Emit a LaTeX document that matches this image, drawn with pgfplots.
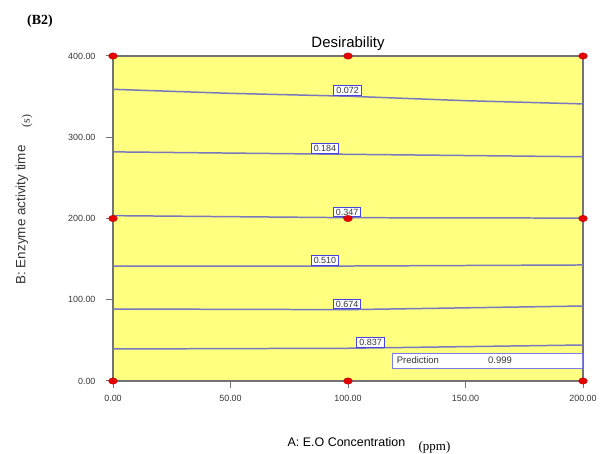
\documentclass[border=0pt]{standalone}
\usepackage{pgfplots}
\pgfplotsset{compat=1.18}
\usepackage{fontspec}
\setmainfont{Liberation Sans}
\newfontfamily\seriffont{Liberation Serif}
\definecolor{fillyellow}{RGB}{255,255,128}
\definecolor{contour}{RGB}{120,120,190}
\definecolor{lblblue}{RGB}{70,70,220}
\definecolor{axgray}{RGB}{115,115,115}
\definecolor{ticktext}{RGB}{55,55,55}
\definecolor{dotred}{RGB}{230,0,0}
\begin{document}
\begin{tikzpicture}[x=1bp,y=1bp]
\useasboundingbox (-113,-73) rectangle (495,381);
\begin{axis}[
  at={(0,0)}, anchor=south west,
  scale only axis, width=470bp, height=325bp,
  xmin=0, xmax=200, ymin=0, ymax=400,
  xtick={0,50,100,150,200}, ytick={0,100,200,300,400},
  tick pos=left, tick align=outside, major tick length=7bp,
  axis line style={axgray, line width=1.4pt},
  every tick/.style={axgray, line width=1pt},
  /pgf/number format/assume math mode=true,
  /pgf/number format/.cd, fixed, fixed zerofill, precision=2, /pgfplots/.cd,
  ticklabel style={font=\fontsize{9}{10}\selectfont, text=ticktext},
  xticklabel style={yshift=-4bp},
  yticklabel style={xshift=-7bp},
  scaled ticks=false,
  axis background/.style={fill=fillyellow},
  clip=false,
]
% contour lines
\addplot[contour, line width=1.5pt] coordinates {(0,359) (50,354) (100,350.5) (150,345) (200,341)};
\addplot[contour, line width=1.5pt] coordinates {(0,282) (100,279) (200,276)};
\addplot[contour, line width=1.5pt] coordinates {(0,203.5) (100,201) (200,200.5)};
\addplot[contour, line width=1.5pt] coordinates {(0,141.5) (100,141.5) (200,142.8)};
\addplot[contour, line width=1.5pt] coordinates {(0,88.6) (100,87.8) (200,92.3)};
\addplot[contour, line width=1.5pt] coordinates {(0,39.4) (100,40.3) (200,44.3)};
% contour labels
\tikzset{clbl/.style={draw=lblblue, fill=white, line width=0.9pt, inner xsep=2.5pt, inner ysep=1.6pt, anchor=south, yshift=0.5bp, font=\fontsize{9}{10}\selectfont, text=ticktext}}
\node[clbl] at (axis cs:99.8,350.5) {0.072};
\node[clbl] at (axis cs:90.2,279.5) {0.184};
\draw[black!80, line width=1.2pt] (axis cs:98.3,201) -- ++(0,11bp);
\node[clbl] at (axis cs:99.6,201) {0.347};
\node[clbl] at (axis cs:90.2,141.5) {0.510};
\node[clbl] at (axis cs:99.6,87.8) {0.674};
\node[clbl] at (axis cs:109.6,40.6) {0.837};
% prediction box
\draw[lblblue!70, fill=white, line width=0.9pt] (axis cs:119.1,16) rectangle (axis cs:199.6,34.5);
\node[anchor=west, font=\fontsize{9.5}{10}\selectfont, text=ticktext] at (axis cs:119.3,25.2) {Prediction};
\node[font=\fontsize{9.5}{10}\selectfont, text=ticktext] at (axis cs:164.7,25.2) {0.999};
% design points
\addplot[only marks, mark=*, mark size=3.8pt, mark options={fill=dotred, draw=dotred!80!black, xscale=1.15, yscale=0.85}]
  coordinates {(0,0) (100,0) (200,0) (0,200) (100,200) (200,200) (0,400) (100,400) (200,400)};
\end{axis}
\node[font=\seriffont\bfseries\fontsize{14}{16}\selectfont] at (-73,360) {(B2)};
\node[font=\fontsize{15}{17}\selectfont] at (235,337) {Desirability};
\node[rotate=90, font=\fontsize{13.5}{15}\selectfont, text=ticktext] at (-91,166) {B: Enzyme activity time};
\node[rotate=90, font=\seriffont\fontsize{12}{14}\selectfont, text=ticktext] at (-86,260) {(s)};
\node[font=\fontsize{12.5}{14}\selectfont, text=black] at (233.5,-61) {A: E.O Concentration};
\node[font=\seriffont\fontsize{13}{15}\selectfont] at (321.5,-66) {(ppm)};
\end{tikzpicture}
\end{document}
